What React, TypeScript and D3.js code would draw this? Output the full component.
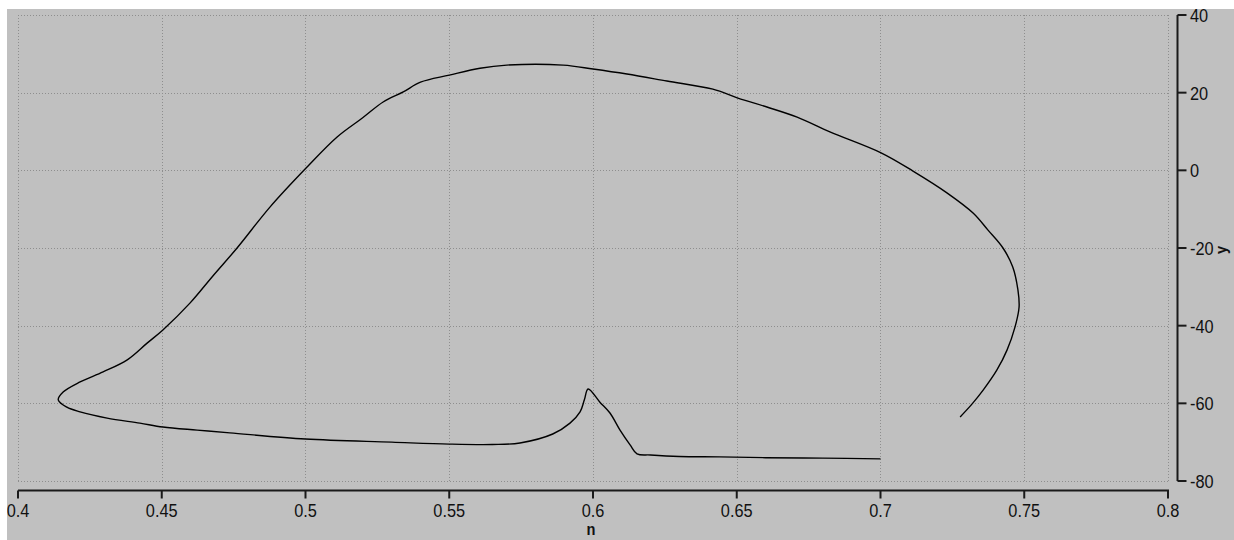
import React from "react";
import * as d3 from "d3";

const nValues = [
  0.700, 0.680, 0.660, 0.644, 0.630, 0.620, 0.6153, 0.6129, 0.6094, 0.6059, 0.6024, 0.5983,
  0.597, 0.5955, 0.592, 0.586, 0.5746, 0.565, 0.55, 0.53, 0.50, 0.4737, 0.4623, 0.4504,
  0.4424, 0.431, 0.4216, 0.417, 0.414, 0.4157, 0.4216, 0.4296, 0.438, 0.4449, 0.4504,
  0.4598, 0.468, 0.4762, 0.4877, 0.5002, 0.511, 0.520, 0.527, 0.534, 0.540, 0.550, 0.5607, 0.570,
  0.5896, 0.600, 0.6118, 0.6257, 0.6417, 0.6504, 0.6605, 0.671, 0.6824, 0.7002, 0.7113,
  0.7231, 0.7322, 0.7374, 0.7426, 0.746, 0.7478, 0.7482, 0.7468, 0.744, 0.7405, 0.7357,
  0.7318, 0.7277,
];
const yValues = [
  -74.3, -74.1, -74.0, -73.8, -73.7, -73.3, -73.0, -70.7, -66.9, -62.5, -59.7, -56.3,
  -59.1, -62.2, -65.1, -67.9, -70.2, -70.6, -70.5, -70.0, -69.2, -67.6, -66.9, -66.1,
  -65.1, -63.8, -62.2, -61.0, -59.1, -57.1, -54.5, -51.9, -48.8, -44.5, -41.1,
  -34.2, -27.0, -20.0, -9.4, 0.6, 8.6, 13.6, 17.6, 20.2, 22.7, 24.5, 26.3, 27.1,
  27.1, 26.1, 24.8, 23.0, 20.9, 18.6, 16.3, 13.7, 9.9, 4.5, -0.2,
  -5.8, -11.0, -15.4, -20.0, -24.9, -30.8, -35.2, -40.3, -46.3, -51.4, -56.6,
  -60.2, -63.5,
];
const xTicks = [0.4, 0.45, 0.5, 0.55, 0.6, 0.65, 0.7, 0.75, 0.8];
const yTicks = [40, 20, 0, -20, -40, -60, -80];
const xTitle = "n";
const yTitle = "y";

const W = 1234;
const H = 540;
const FONT = "'Liberation Sans', Arial, sans-serif";
const SX = 0.86;

export default function App() {
  const x = d3.scaleLinear().domain([0.4, 0.8]).range([18, 1168]);
  const y = d3.scaleLinear().domain([-80, 40]).range([481, 15]);
  const pts: [number, number][] = nValues.map((n, i) => [n, yValues[i]]);
  const line = d3
    .line<[number, number]>()
    .x((d) => x(d[0]))
    .y((d) => y(d[1]))
    .curve(d3.curveCatmullRom.alpha(0.5));
  const axisY = 490.5;
  const axisX = 1177.5;
  return (
    <svg
      width={W}
      height={H}
      style={{ position: "absolute", left: 0, top: 0, display: "block" }}
      fontFamily={FONT}
    >
      <defs>
        <clipPath id="bg">
          <rect x={7} y={9} width={W - 7} height={H - 9} />
        </clipPath>
      </defs>
      <rect x={0} y={0} width={W} height={H} fill="#ffffff" />
      <g clipPath="url(#bg)">
        <rect x={7} y={9} width={W - 7} height={H - 9} fill="#c0c0c0" />
        {xTicks.map((t) => (
          <line
            key={"gx" + t}
            x1={Math.round(x(t)) + 0.5}
            x2={Math.round(x(t)) + 0.5}
            y1={y(40)}
            y2={y(-80)}
            stroke="#8e8e8e"
            strokeDasharray="1 2"
          />
        ))}
        {yTicks.map((t) => (
          <line
            key={"gy" + t}
            x1={x(0.4)}
            x2={x(0.8)}
            y1={Math.round(y(t)) + 0.5}
            y2={Math.round(y(t)) + 0.5}
            stroke="#8e8e8e"
            strokeDasharray="1 2"
          />
        ))}
        <path d={line(pts) || ""} fill="none" stroke="#000" strokeWidth={1.4} />
        {/* x axis */}
        <line x1={x(0.4)} x2={x(0.8) + 1} y1={axisY} y2={axisY} stroke="#1a1a1a" strokeWidth={2} />
        {xTicks.map((t) => (
          <g key={"xt" + t}>
            <line x1={x(t)} x2={x(t)} y1={axisY} y2={axisY + 8} stroke="#1a1a1a" strokeWidth={2} />
            <text
              transform={`translate(${x(t)},517) scale(${SX},1)`}
              textAnchor="middle"
              fontSize={19}
              fill="#111"
            >
              {String(t)}
            </text>
          </g>
        ))}
        <text
          transform={`translate(591,535) scale(${SX},1)`}
          textAnchor="middle"
          fontSize={17}
          fontWeight="bold"
          fill="#111"
        >
          {xTitle}
        </text>
        {/* y axis */}
        <line x1={axisX} x2={axisX} y1={y(40)} y2={y(-80)} stroke="#1a1a1a" strokeWidth={2} />
        {yTicks.map((t) => (
          <g key={"yt" + t}>
            <line x1={axisX} x2={axisX + 9} y1={y(t)} y2={y(t)} stroke="#1a1a1a" strokeWidth={2} />
            <text
              transform={`translate(1190,${y(t)}) scale(${SX},1)`}
              dy="0.36em"
              textAnchor="start"
              fontSize={19}
              fill="#111"
            >
              {String(t)}
            </text>
          </g>
        ))}
        <text
          transform={`translate(1222,250) rotate(-90) scale(${SX},1)`}
          textAnchor="middle"
          dy="0.3em"
          fontSize={17}
          fontWeight="bold"
          fill="#111"
        >
          {yTitle}
        </text>
      </g>
    </svg>
  );
}
